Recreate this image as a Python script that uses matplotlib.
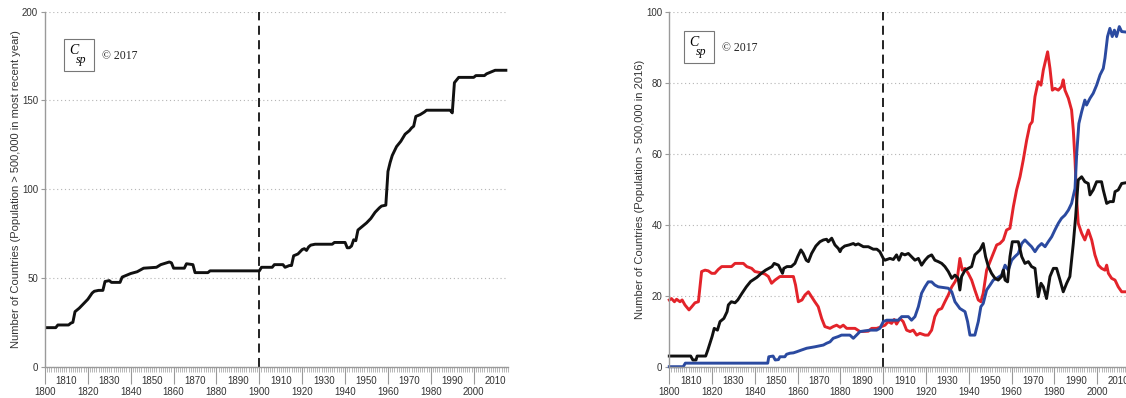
import matplotlib
matplotlib.use("Agg")
import matplotlib.pyplot as plt
from matplotlib.patches import Rectangle
from matplotlib.ticker import MultipleLocator, FuncFormatter

plt.rcParams['font.family'] = ['Liberation Sans', 'DejaVu Sans']

# left panel: countries with population > 500,000 in most recent year
all_years = [1800, 1805, 1806, 1811, 1812, 1813, 1814, 1816, 1818, 1820, 1822, 1823,
             1825, 1827, 1828, 1830, 1831, 1835, 1836, 1840, 1843, 1846, 1852, 1854,
             1858, 1859, 1860, 1865, 1866, 1869, 1870, 1876, 1877, 1900, 1901, 1906,
             1907, 1911, 1912, 1914, 1915, 1916, 1918, 1920, 1921, 1922, 1923, 1924,
             1926, 1934, 1935, 1940, 1941, 1942, 1943, 1944, 1945, 1946, 1948, 1950,
             1952, 1954, 1956, 1957, 1959, 1960, 1961, 1962, 1964, 1966, 1968, 1970,
             1971, 1972, 1973, 1975, 1977, 1978, 1989, 1990, 1991, 1992, 1993, 2000,
             2001, 2005, 2006, 2008, 2010, 2015]
all_counts = [22, 22, 23.5, 23.5, 24.5, 25, 31, 33, 35.5, 38, 41.5, 42.5,
              43, 43, 48, 48.5, 47.5, 47.5, 50.5, 52.5, 53.5, 55.5, 56, 57.5,
              59, 58.5, 55.5, 55.5, 58, 57.5, 53, 53, 54, 54, 56, 56,
              57.5, 57.5, 56, 57, 57, 62.5, 63.5, 66, 66.5, 65.5, 67.5, 68.5,
              69, 69, 70, 70, 67, 67, 68, 71.5, 71, 77, 79, 81,
              83.5, 87, 89.5, 90.5, 91, 110, 115, 119, 124, 127, 131, 133,
              134.5, 135.5, 141, 142, 143.5, 144.5, 144.5, 143, 160, 161.5, 163, 163,
              164, 164, 165, 166, 167, 167]

# right panel: three groups of countries (population > 500,000 in 2016)
black_years = [1800, 1810, 1811, 1812.5, 1813, 1817, 1818, 1820, 1821, 1822.5, 1823.7, 1825.5,
               1827, 1827.6, 1829, 1830.7, 1832, 1834, 1836, 1838, 1841, 1843, 1845, 1848,
               1849, 1851, 1852.9, 1853.5, 1855, 1857, 1858.7, 1860, 1861.5, 1862.6, 1864, 1865,
               1866.5, 1868.5, 1870.4, 1872, 1873.5, 1874.3, 1875.9, 1877.4, 1879, 1879.8, 1880.5, 1882,
               1884, 1886, 1887, 1888.3, 1890.7, 1893, 1895.3, 1897, 1898.4, 1900, 1900.8, 1903.1,
               1904.7, 1906.2, 1907.3, 1908.6, 1910.1, 1911.7, 1913.2, 1914.8, 1916.4, 1917.9, 1919.5, 1921,
               1922.6, 1924.1, 1925.7, 1927.3, 1928.8, 1930.4, 1932, 1933.5, 1935, 1935.8, 1936.6, 1938.2,
               1939.7, 1941.3, 1942.8, 1945.2, 1946.7, 1947.8, 1949.1, 1950.6, 1952.2, 1953.7, 1955.3, 1956.1,
               1956.9, 1958.1, 1959.2, 1960.3, 1963.1, 1964.7, 1966.2, 1967.8, 1969.3, 1970.9, 1972.4, 1973.7,
               1974.8, 1976.3, 1977.9, 1979.5, 1981, 1982.6, 1984.1, 1985.7, 1987.2, 1988.8, 1989.9, 1991.1,
               1992.7, 1994.2, 1995.8, 1996.6, 1998.1, 1999.7, 2002, 2002.8, 2004.4, 2005.9, 2007.5, 2008.3,
               2009.8, 2011.4, 2016]
black_counts = [3, 3, 1.9, 1.9, 3, 3, 4.7, 8.5, 10.8, 10.3, 12.7, 13.6,
                15.5, 17.4, 18.3, 18, 18.8, 20.7, 22.5, 24, 25.2, 26.3, 27.2, 28.2,
                29.1, 28.6, 26.3, 27.7, 28.2, 28.2, 29.1, 31, 32.9, 31.9, 30, 29.6,
                31.9, 34, 35.2, 35.7, 35.9, 35.2, 36.2, 34.3, 33.3, 32.4, 33.3, 34,
                34.3, 34.7, 34.3, 34.6, 33.8, 33.8, 33.1, 33.1, 32.4, 30.5, 30, 30.5,
                30.2, 31.5, 30, 31.9, 31.5, 31.9, 31, 30, 30.5, 28.6, 30, 31,
                31.5, 30, 29.6, 29.1, 28.2, 26.8, 24.9, 25.8, 24.9, 21.6, 25.4, 27.2,
                27.7, 28.2, 31.5, 32.9, 34.7, 31, 28.2, 26.3, 24.9, 24.4, 25.4, 27.2,
                24.4, 23.9, 31, 35.2, 35.2, 31, 29.1, 29.6, 28.2, 27.7, 19.7, 23.5,
                22.5, 19.2, 25.4, 27.7, 27.7, 24.4, 21.1, 23.5, 25.4, 34.7, 42.3, 52.6,
                53.5, 52.1, 51.6, 48.4, 49.8, 52.1, 52.1, 49.8, 46, 46.5, 46.5, 49.3,
                49.8, 51.6, 52.1]

red_years = [1800, 1801, 1802.4, 1803.4, 1805, 1806, 1807.3, 1809.2, 1810.5, 1812, 1813.6, 1815.1,
             1816.7, 1818.2, 1819.8, 1821.3, 1822.9, 1824.5, 1829.1, 1830.7, 1834.6, 1836.2, 1838.5, 1840,
             1842.4, 1844.7, 1846.3, 1847.8, 1849.4, 1851.7, 1858, 1859, 1860.3, 1862, 1863.4, 1865,
             1866.5, 1868, 1869.6, 1871.2, 1872.7, 1875.1, 1876.6, 1878.2, 1879.8, 1881.3, 1882.9, 1886.8,
             1889.1, 1893, 1894.6, 1896.9, 1898.4, 1900.8, 1902.3, 1903.9, 1905.1, 1906.2, 1907.8, 1909.3,
             1910.9, 1912.5, 1914, 1915.6, 1917.1, 1919.5, 1921, 1922.6, 1924.1, 1925.7, 1927.3, 1928.8,
             1930.4, 1932, 1933.5, 1934.7, 1935.8, 1936.9, 1938.2, 1939.7, 1941.3, 1942.8, 1944.4, 1945.6,
             1946.7, 1948.3, 1949.9, 1951.4, 1953, 1954.5, 1956.1, 1957.6, 1959.2, 1960.8, 1962.3, 1963.9,
             1965.4, 1967, 1968.5, 1969.6, 1970.9, 1972.4, 1973.7, 1974.8, 1976.8, 1977.9, 1979, 1980.2,
             1981.8, 1983.3, 1984.1, 1984.9, 1986.5, 1988, 1988.8, 1989.6, 1990.4, 1991.1, 1992.7, 1994.2,
             1995.8, 1997.4, 1998.9, 2000.5, 2002, 2003.6, 2004.4, 2005.2, 2006.7, 2008.3, 2009.8, 2011.4,
             2016]
red_counts = [18.8, 19.2, 18.3, 19, 18.3, 18.8, 17.4, 16, 16.9, 18, 18.3, 26.8,
              27.2, 27, 26.3, 26.3, 27.4, 28.2, 28.2, 29.1, 29.1, 28.2, 27.7, 26.8,
              26.5, 26.1, 25.4, 23.5, 24.4, 25.4, 25.4, 23, 18.3, 18.8, 20.2, 21.1,
              19.7, 18.3, 16.9, 13.6, 11.3, 10.8, 11.3, 11.7, 11.1, 11.7, 10.8, 10.8,
              9.9, 10, 10.8, 10.8, 11.1, 11.7, 12.7, 12.2, 13.3, 12, 13.6, 12.7,
              10.3, 9.9, 10.3, 8.9, 9.4, 8.9, 8.9, 10.3, 14.1, 16, 16.4, 18.3,
              20.2, 22.5, 23.9, 25.4, 30.5, 27.2, 27.7, 26.3, 24.4, 21.6, 18.8, 18.3,
              20.7, 27.2, 29.6, 31.9, 34.3, 34.7, 35.7, 38.5, 39, 45.1, 49.8, 53.5,
              58.2, 63.8, 68.1, 69, 76.1, 80.3, 79.3, 83.6, 88.7, 84, 77.9, 78.4,
              77.9, 78.9, 80.8, 77.9, 75.6, 72.3, 66.7, 58.2, 46.9, 40.4, 37.6, 35.7,
              38.5, 35.7, 31.5, 28.6, 27.7, 27.2, 28.6, 26.3, 24.9, 24.4, 22.5, 21.1,
              21.1]

blue_years = [1800, 1806.5, 1807.5, 1846, 1846.5, 1848.5, 1849.5, 1851, 1851.7, 1854, 1854.8, 1856.4,
              1858, 1859.5, 1861.8, 1864.2, 1868, 1872, 1873.5, 1875.1, 1876.6, 1879, 1880.5, 1884.4,
              1886, 1887.5, 1889.1, 1893.8, 1896.9, 1898.4, 1900, 1901.6, 1907, 1908.6, 1911.7, 1913.2,
              1914.8, 1916.4, 1917.9, 1919.5, 1921, 1922.6, 1924.1, 1925.7, 1930.4, 1932, 1933.5, 1935.8,
              1938.2, 1939.4, 1940.5, 1942.8, 1944.4, 1945.6, 1946.7, 1948.3, 1949.9, 1951.4, 1953, 1955.3,
              1956.9, 1958.4, 1960, 1961.5, 1963.1, 1964.7, 1966.2, 1967.8, 1969.3, 1970.9, 1972.4, 1974,
              1975.6, 1977.1, 1978.7, 1980.2, 1981.8, 1983.3, 1984.9, 1986.5, 1988, 1989.6, 1990.4, 1991.4,
              1992.7, 1994.2, 1995, 1996.6, 1998.1, 1999.7, 2001.3, 2002.8, 2003.6, 2004.8, 2005.9, 2007,
              2008, 2009, 2010.3, 2011.4, 2016]
blue_counts = [0, 0, 1, 1, 2.8, 3, 1.9, 2, 2.8, 2.8, 3.5, 3.8,
               3.9, 4.2, 4.7, 5.2, 5.6, 6.1, 6.6, 7, 8, 8.5, 8.9, 8.9,
               8, 8.9, 9.9, 10.3, 10.3, 10.8, 12.7, 13.1, 13.1, 14.1, 14.1, 13.1,
               14.1, 16.9, 20.7, 22.5, 23.9, 23.9, 23, 22.5, 22.1, 21.1, 18.3, 16.4,
               15.5, 12.7, 8.9, 8.9, 12.7, 16.9, 17.8, 21.6, 23, 24.4, 24.9, 25.8,
               28.6, 27.2, 30, 31, 31.9, 34.7, 35.7, 34.7, 33.8, 32.4, 33.8, 34.7,
               33.8, 35.2, 36.6, 38.5, 40.4, 41.8, 42.7, 44.1, 46, 50.2, 60.1, 68.5,
               71.8, 75.1, 73.7, 75.6, 77, 79.3, 82.2, 84, 86.9, 93, 95.3, 93,
               94.8, 93, 95.8, 94.4, 94.1]

GREY = '#9a9a9a'
W, H = 1126, 398


def odd_decade(x, pos):
    yr = int(round(x))
    return str(yr) if yr % 20 == 10 else ''


def style_axes(ax, ymax, ystep, ylabel):
    ax.set_xlim(1800, 2016)
    ax.set_ylim(0, ymax)
    for s in ['top', 'right']:
        ax.spines[s].set_visible(False)
    for s in ['left', 'bottom']:
        ax.spines[s].set_color(GREY)
        ax.spines[s].set_linewidth(1.0)
    ax.yaxis.set_major_locator(MultipleLocator(ystep))
    ax.grid(axis='y', color='#b5b5b5', linestyle=(0, (1, 2.5)), linewidth=0.8)
    ax.set_axisbelow(True)
    # even decades on the lower row with long ticks, odd decades above
    ax.xaxis.set_major_locator(MultipleLocator(20))
    ax.xaxis.set_minor_locator(MultipleLocator(1))
    ax.xaxis.set_minor_formatter(FuncFormatter(odd_decade))
    ax.tick_params(axis='x', which='major', length=12, width=0.8, color=GREY,
                   pad=2.5, labelsize=7, labelcolor='#333333')
    ax.tick_params(axis='x', which='minor', length=3.5, width=0.5, color=GREY,
                   pad=3.2, labelsize=7, labelcolor='#333333')
    ax.tick_params(axis='y', length=3, width=0.8, color=GREY, pad=2,
                   labelsize=7, labelcolor='#333333')
    ax.set_ylabel(ylabel, fontsize=8, color='#333333', labelpad=1)
    ax.axvline(1900, color='#111111', linewidth=1.3, linestyle=(0, (5, 3)))


def add_logo(fig, x0, y0):
    # small "CSp" box plus copyright note, positioned in pixels
    fig.patches.append(Rectangle((x0 / W, 1 - (y0 + 32) / H), 30 / W, 32 / H,
                                 transform=fig.transFigure, fill=False,
                                 edgecolor='#777777', linewidth=0.8))
    fig.text((x0 + 10) / W, 1 - (y0 + 12) / H, 'C', family='Liberation Serif',
             style='italic', fontsize=10, ha='center', va='center')
    fig.text((x0 + 17) / W, 1 - (y0 + 21) / H, 'sp', family='Liberation Serif',
             style='italic', fontsize=8.5, ha='center', va='center')
    fig.text((x0 + 38) / W, 1 - (y0 + 17) / H, '\u00a9 2017', family='Liberation Serif',
             fontsize=8.5, ha='left', va='center', color='#222222')


fig = plt.figure(figsize=(W / 100, H / 100), dpi=100)

ax1 = fig.add_axes([45 / W, 31.3 / H, 463 / W, 355 / H])
style_axes(ax1, 200, 50, 'Number of Countries (Population > 500,000 in most recent year)')
ax1.plot(all_years, all_counts, color='#111111', linewidth=2.1, solid_joinstyle='round')

ax2 = fig.add_axes([669.3 / W, 31.3 / H, 462.2 / W, 355 / H])
style_axes(ax2, 100, 20, 'Number of Countries (Population > 500,000 in 2016)')
ax2.plot(red_years, red_counts, color='#e3232a', linewidth=2.1, clip_on=False)
ax2.plot(blue_years, blue_counts, color='#2b4aa0', linewidth=2.1, clip_on=False)
ax2.plot(black_years, black_counts, color='#111111', linewidth=2.1, clip_on=False)

add_logo(fig, 64, 39)
add_logo(fig, 684, 31)

fig.savefig('out.png', dpi=100)
